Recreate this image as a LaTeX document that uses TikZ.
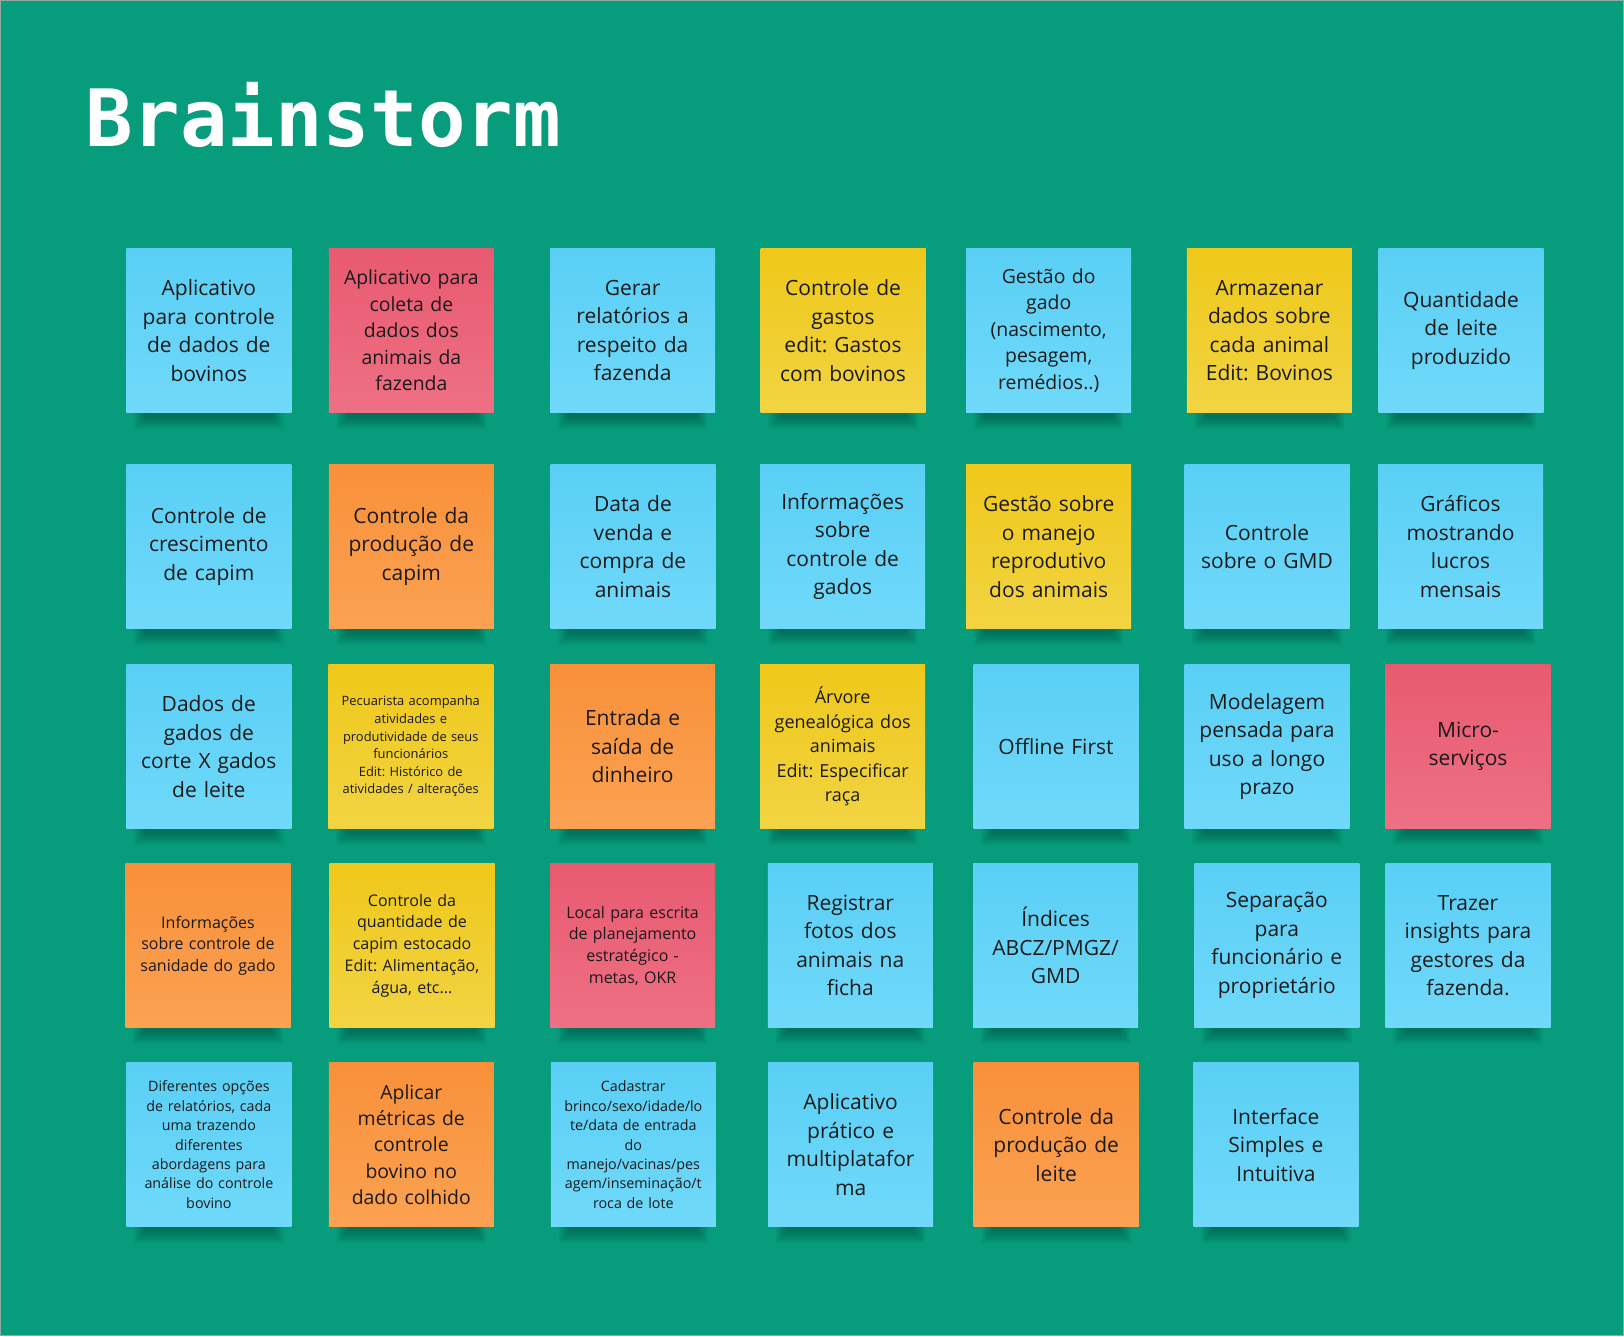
\documentclass[tikz,border=0pt]{standalone}
\usepackage{fontspec}
\setmainfont{Open Sans}
\newfontfamily\titlefont{DejaVu Sans Mono}
\frenchspacing
\pgfdeclarelayer{background}
\pgfsetlayers{background,main}
\definecolor{boardgreen}{HTML}{069C7C}
\definecolor{boardedge}{HTML}{8FA9A1}
\definecolor{blueTop}{HTML}{5ACFF5}
\definecolor{blueBot}{HTML}{70D9FA}
\definecolor{redTop}{HTML}{E85A70}
\definecolor{redBot}{HTML}{EE7084}
\definecolor{yellowTop}{HTML}{EFC81A}
\definecolor{yellowBot}{HTML}{F2D443}
\definecolor{orangeTop}{HTML}{F8903A}
\definecolor{orangeBot}{HTML}{FBA252}
\definecolor{inkdark}{HTML}{1A1A1A}
\definecolor{shadowdark}{HTML}{02382C}

\begin{document}
\begin{tikzpicture}[
  x=1pt, y=-1pt,
  note/.style={rectangle, minimum width=165pt, minimum height=164pt, inner sep=0pt, text width=160pt, align=center, text=inkdark},
  bluenote/.style={note, top color=blueTop, bottom color=blueBot},
  rednote/.style={note, top color=redTop, bottom color=redBot},
  yellownote/.style={note, top color=yellowTop, bottom color=yellowBot},
  orangenote/.style={note, top color=orangeTop, bottom color=orangeBot},
  txtbig/.style={font=\fontsize{21}{28.5}\selectfont},
  txtmed/.style={font=\fontsize{19.4}{26.4}\selectfont},
  txtarv/.style={font=\fontsize{18}{24.5}\selectfont},
  txtsmall/.style={font=\fontsize{16}{21.7}\selectfont},
  txttiny/.style={font=\fontsize{14.3}{19.4}\selectfont},
  txtmini/.style={font=\fontsize{12.9}{17.6}\selectfont},
  noteshadow/.style={fill=shadowdark, opacity=#1}
]
  \begin{pgfonlayer}{background}
    \fill[boardgreen] (0,0) rectangle (1624,1336);
  \end{pgfonlayer}
  \draw[boardedge, line width=1pt] (0.5,0.5) rectangle (1623.5,1335.5);
  \useasboundingbox (0,0) rectangle (1624,1336);

  \node[anchor=base west, inner sep=0pt, text=white, font=\titlefont\bfseries\fontsize{79}{79}\selectfont] (title) at (85,146) {Brainstorm};

  % row 1
  \node[bluenote, txtbig] (appBovinos) at (208.8,330.5) {Aplicativo\\para controle\\de dados de\\bovinos};
  \node[rednote, txtmed] (appColeta) at (411.4,330.5) {Aplicativo para\\coleta de\\dados dos\\animais da\\fazenda};
  \node[bluenote, txtbig] (relatorios) at (632.6,330.5) {Gerar\\relatórios a\\respeito da\\fazenda};
  \node[yellownote, txtbig] (gastos) at (843,330.5) {Controle de\\gastos\\edit: Gastos\\com bovinos};
  \node[bluenote, txtmed] (gestaoGado) at (1048.7,330.5) {Gestão do\\gado\\(nascimento,\\pesagem,\\remédios..)};
  \node[yellownote, txtbig] (armazenar) at (1269.4,330.5) {Armazenar\\dados sobre\\cada animal\\Edit: Bovinos};
  \node[bluenote, txtbig] (qtdLeite) at (1461,330.5) {Quantidade\\de leite\\produzido};

  % row 2
  \node[bluenote, txtbig] (crescCapim) at (208.8,546.5) {Controle de\\crescimento\\de capim};
  \node[orangenote, txtbig] (prodCapim) at (411.3,546.5) {Controle da\\produção de\\capim};
  \node[bluenote, txtbig] (vendaCompra) at (633,546.5) {Data de\\venda e\\compra de\\animais};
  \node[bluenote, txtbig] (infoGados) at (842.7,546.5) {Informações\\sobre\\controle de\\gados};
  \node[yellownote, txtbig] (manejoRepr) at (1048.7,546.5) {Gestão sobre\\o manejo\\reprodutivo\\dos animais};
  \node[bluenote, txtbig] (gmd) at (1267,546.5) {Controle\\sobre o GMD};
  \node[bluenote, txtbig] (graficos) at (1460.5,546.5) {Gráficos\\mostrando\\lucros\\mensais};

  % row 3
  \node[bluenote, txtbig] (corteLeite) at (208.8,746.5) {Dados de\\gados de\\corte X gados\\de leite};
  \node[yellownote, txtmini] (pecuarista) at (410.8,746.5) {Pecuarista acompanha\\atividades e\\produtividade de seus\\funcionários\\Edit: Histórico de\\atividades / alterações};
  \node[orangenote, txtbig] (dinheiro) at (632.6,746.5) {Entrada e\\saída de\\dinheiro};
  \node[yellownote, txtarv] (arvore) at (842.7,746.5) {Árvore\\genealógica dos\\animais\\Edit: Especificar\\raça};
  \node[bluenote, txtbig] (offline) at (1056,746.5) {Offline First};
  \node[bluenote, txtbig] (modelagem) at (1267,746.5) {Modelagem\\pensada para\\uso a longo\\prazo};
  \node[rednote, txtbig] (micro) at (1468,746.5) {Micro-\\serviços};

  % row 4
  \node[orangenote, txtsmall] (sanidade) at (208,945.5) {Informações\\sobre controle de\\sanidade do gado};
  \node[yellownote, txtsmall] (capimEstoc) at (412,945.5) {Controle da\\quantidade de\\capim estocado\\Edit: Alimentação,\\água, etc...};
  \node[rednote, txtsmall] (planejamento) at (632.6,945.5) {Local para escrita\\de planejamento\\estratégico -\\metas, OKR};
  \node[bluenote, txtbig] (fotos) at (850.3,945.5) {Registrar\\fotos dos\\animais na\\ficha};
  \node[bluenote, txtbig] (indices) at (1055.6,945.5) {Índices\\ABCZ/PMGZ/\\GMD};
  \node[bluenote, txtbig] (separacao) at (1276.8,945.5) {Separação\\para\\funcionário e\\proprietário};
  \node[bluenote, txtbig] (insights) at (1468,945.5) {Trazer\\insights para\\gestores da\\fazenda.};

  % row 5
  \node[bluenote, txttiny] (opcoes) at (208.9,1144.7) {Diferentes opções\\de relatórios, cada\\uma trazendo\\diferentes\\abordagens para\\análise do controle\\bovino};
  \node[orangenote, txtmed] (metricas) at (411.3,1144.7) {Aplicar\\métricas de\\controle\\bovino no\\dado colhido};
  \node[bluenote, txttiny] (cadastrar) at (633.3,1144.7) {Cadastrar\\brinco/sexo/idade/lo\\te/data de entrada\\do\\manejo/vacinas/pes\\agem/inseminação/t\\roca de lote};
  \node[bluenote, txtbig] (multiplat) at (850.6,1144.7) {Aplicativo\\prático e\\multiplatafor\\ma};
  \node[orangenote, txtbig] (prodLeite) at (1056.2,1144.7) {Controle da\\produção de\\leite};
  \node[bluenote, txtbig] (interface) at (1275.9,1144.7) {Interface\\Simples e\\Intuitiva};

  % soft shadows under the notes
  \begin{pgfonlayer}{background}
    \foreach \n in {appBovinos,appColeta,relatorios,gastos,gestaoGado,armazenar,qtdLeite,
        crescCapim,prodCapim,vendaCompra,infoGados,manejoRepr,gmd,graficos,
        corteLeite,pecuarista,dinheiro,arvore,offline,modelagem,micro,
        sanidade,capimEstoc,planejamento,fotos,indices,separacao,insights,
        opcoes,metricas,cadastrar,multiplat,prodLeite,interface}
      \foreach \k in {0,...,7}
        \fill[noteshadow=.06] ([shift={(8+1.6*\k,-2)}]\n.south west) rectangle ([shift={(-8-1.6*\k,16-1.7*\k)}]\n.south east);
  \end{pgfonlayer}
\end{tikzpicture}
\end{document}
